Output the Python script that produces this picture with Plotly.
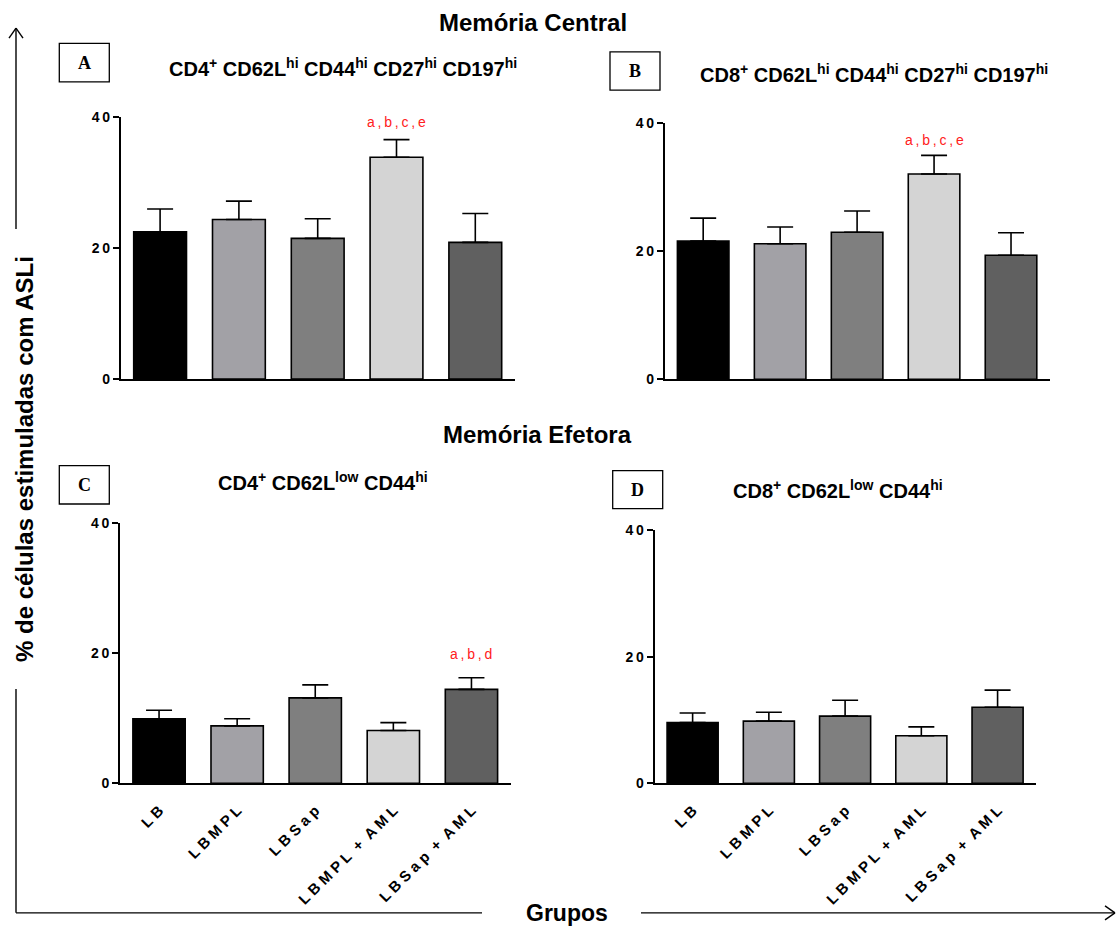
import plotly.graph_objects as go

W, H = 1119, 926

# Groups and bar fills
groups = ["LB", "LBMPL", "LBSap", "LBMPL + AML", "LBSap + AML"]
bar_colors = ["#000000", "#A2A1A6", "#7F7F7F", "#D4D4D4", "#606060"]

# Mean and upper SEM for each panel
A_mean = [22.5, 24.4, 21.5, 33.9, 20.9]
A_err = [3.5, 2.8, 3.0, 2.7, 4.4]
B_mean = [21.6, 21.2, 23.0, 32.1, 19.4]
B_err = [3.6, 2.6, 3.3, 2.9, 3.5]
C_mean = [9.9, 8.8, 13.1, 8.1, 14.4]
C_err = [1.3, 1.1, 2.0, 1.2, 1.8]
D_mean = [9.6, 9.8, 10.6, 7.5, 12.0]
D_err = [1.5, 1.4, 2.5, 1.4, 2.7]

y_ticks = [0, 20, 40]
y_ticktext = ["0", "2\u20090", "4\u20090"]

FONT = "Liberation Sans, Arial, Helvetica, sans-serif"
SERIF = "Liberation Serif, Times New Roman, serif"

# vertical placement: page offset and scale of the rendered canvas
V_OFF = 7.86
V_SCALE = 926 / 942


def spaced(label):
    # letter-spaced group labels
    chars = [ch for ch in label if ch != " "]
    s = " ".join(chars)
    return s.replace(" + ", "  +  ")


x_ticktext = [spaced(g) for g in groups]


def px_x(v):
    return v / W


def px_y(v):
    return 1 - ((v - V_OFF) / V_SCALE) / H


# panel: (means, errs, x-domain px, y-domain px (bottom, top), show x labels)
panels = [
    (A_mean, A_err, (120.7, 514.7), (379.0, 117.3), False),
    (B_mean, B_err, (664.7, 1049.5), (379.3, 123.3), False),
    (C_mean, C_err, (120.0, 510.5), (783.3, 522.7), True),
    (D_mean, D_err, (654.5, 1035.7), (783.3, 530.0), True),
]

fig = go.Figure()
layout_axes = {}
for i, (means, errs, xd, yd, show_lbl) in enumerate(panels, start=1):
    sfx = "" if i == 1 else str(i)
    fig.add_trace(go.Bar(
        x=groups, y=means,
        xaxis="x" + sfx, yaxis="y" + sfx,
        width=0.67,
        marker=dict(color=bar_colors, line=dict(color="#000000", width=1.6)),
        error_y=dict(type="data", symmetric=False, array=errs,
                     arrayminus=[0] * len(errs),
                     color="#000000", thickness=1.6, width=13),
        showlegend=False, hoverinfo="skip",
    ))
    layout_axes["xaxis" + sfx] = dict(
        domain=[px_x(xd[0]), px_x(xd[1])],
        anchor="y" + sfx,
        type="category",
        range=[-0.5, 4.5],
        showline=True, linecolor="#000000", linewidth=1.6,
        showgrid=False, zeroline=False, ticks="",
        showticklabels=show_lbl,
        tickvals=groups, ticktext=x_ticktext,
        tickangle=-45,
        ticklabelstandoff=11,
        tickfont=dict(family=FONT, size=15, color="#000000", weight="bold"),
        fixedrange=True,
    )
    layout_axes["yaxis" + sfx] = dict(
        domain=[px_y(yd[0]), px_y(yd[1])],
        anchor="x" + sfx,
        range=[0, 40],
        showline=True, linecolor="#000000", linewidth=1.6,
        showgrid=False, zeroline=False,
        ticks="outside", ticklen=6, tickwidth=1.6, tickcolor="#000000",
        tickvals=y_ticks, ticktext=y_ticktext,
        tickfont=dict(family=FONT, size=14, color="#000000", weight="bold"),
        fixedrange=True,
    )

fig.update_layout(**layout_axes)

annotations = []
shapes = []

# Panel headings
titles = [
    ("CD4<sup>+</sup> CD62L<sup>hi</sup> CD44<sup>hi</sup> CD27<sup>hi</sup> CD197<sup>hi</sup>", 342.5, 67),
    ("CD8<sup>+</sup> CD62L<sup>hi</sup> CD44<sup>hi</sup> CD27<sup>hi</sup> CD197<sup>hi</sup>", 874, 73),
    ("CD4<sup>+</sup> CD62L<sup>low</sup> CD44<sup>hi</sup>", 322.5, 482),
    ("CD8<sup>+</sup> CD62L<sup>low</sup> CD44<sup>hi</sup>", 838, 490),
]
for txt, cx, cy in titles:
    annotations.append(dict(
        text=txt, x=px_x(cx), y=px_y(cy), xref="paper", yref="paper",
        xanchor="center", yanchor="middle", showarrow=False,
        font=dict(family=FONT, size=20, color="#000000", weight="bold"),
    ))

# Section headings
for txt, cx, cy in [("Memória Central", 532.5, 22), ("Memória Efetora", 537, 434)]:
    annotations.append(dict(
        text=txt, x=px_x(cx), y=px_y(cy), xref="paper", yref="paper",
        xanchor="center", yanchor="middle", showarrow=False,
        font=dict(family=FONT, size=24, color="#000000", weight="bold"),
    ))

# Letter boxes
boxes = [
    ("A", 59.3, 43.3, 109.3, 81.7),
    ("B", 610.0, 51.7, 660.0, 90.0),
    ("C", 59.3, 465.7, 109.3, 504.0),
    ("D", 612.7, 470.7, 662.7, 508.7),
]
for letter, x0, y0, x1, y1 in boxes:
    shapes.append(dict(type="rect", xref="paper", yref="paper",
                       x0=px_x(x0), x1=px_x(x1), y0=px_y(y1), y1=px_y(y0),
                       line=dict(color="#000000", width=1.3), fillcolor="rgba(0,0,0,0)"))
    annotations.append(dict(
        text=letter, x=px_x((x0 + x1) / 2), y=px_y((y0 + y1) / 2),
        xref="paper", yref="paper", xanchor="center", yanchor="middle",
        showarrow=False,
        font=dict(family=SERIF, size=18, color="#000000", weight="bold"),
    ))

# Significance letters
sig = [
    ("a\u2009,\u2009b\u2009,\u2009c\u2009,\u2009e", "x", "y", 3, 39.3),
    ("a\u2009,\u2009b\u2009,\u2009c\u2009,\u2009e", "x2", "y2", 3, 37.4),
    ("a\u2009,\u2009b\u2009,\u2009d", "x3", "y3", 4, 19.8),
]
for txt, xr, yr, idx, yv in sig:
    annotations.append(dict(
        text=txt, x=groups[idx], y=yv, xref=xr, yref=yr,
        xanchor="center", yanchor="middle", showarrow=False,
        font=dict(family=FONT, size=14, color="#FF2020"),
    ))

# Shared axis titles
annotations.append(dict(
    text="% de células estimuladas com ASLi", x=px_x(24), y=px_y(459),
    xref="paper", yref="paper", xanchor="center", yanchor="middle",
    textangle=-90, showarrow=False,
    font=dict(family=FONT, size=24, color="#000000", weight="bold"),
))
annotations.append(dict(
    text="Grupos", x=px_x(567), y=px_y(913),
    xref="paper", yref="paper", xanchor="center", yanchor="middle",
    showarrow=False,
    font=dict(family=FONT, size=23, color="#000000", weight="bold"),
))

# Frame arrows around the panels
line_style = dict(color="#000000", width=1.4)
frame_lines = [
    (16, 229, 16, 28),     # vertical, upper part
    (16, 689, 16, 913),    # vertical, lower part
    (16, 913, 482, 913),   # horizontal, left part
    (641, 913, 1115, 913),  # horizontal, right part
    (9, 38, 16, 28), (23, 38, 16, 28),            # up arrow head
    (1105, 906, 1115, 913), (1105, 920, 1115, 913),  # right arrow head
]
for x0, y0, x1, y1 in frame_lines:
    shapes.append(dict(type="line", xref="paper", yref="paper",
                       x0=px_x(x0), y0=px_y(y0), x1=px_x(x1), y1=px_y(y1),
                       line=line_style))

fig.update_layout(
    width=W, height=H,
    margin=dict(l=0, r=0, t=0, b=0),
    paper_bgcolor="#FFFFFF", plot_bgcolor="#FFFFFF",
    annotations=annotations, shapes=shapes,
    font=dict(family=FONT, color="#000000"),
)

fig.write_html("out.html", config={"displayModeBar": False})
